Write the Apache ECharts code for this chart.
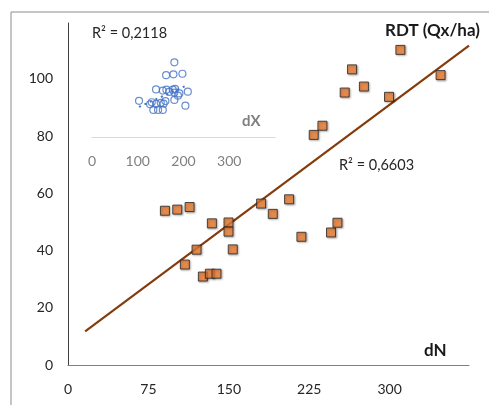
<!DOCTYPE html>
<html>
<head>
<meta charset="utf-8">
<script src="https://cdn.jsdelivr.net/npm/echarts@6/dist/echarts.min.js"></script>
<style>html,body{margin:0;padding:0;background:#fff}#c{width:489px;height:405px}</style>
</head>
<body>
<div id="c"></div>
<script>
// Main series: dN (x) vs RDT (Qx/ha) (y)
const dN  = [90.4,101.9,113.4,134.2,149.7,149.7,153.7,119.9,109.0,125.8,132.3,138.5,180.1,191.0,206.2,217.7,245.3,251.3,310.0,347.5,264.9,276.0,258.1,299.4,237.3,229.2];
const RDT = [53.9,54.3,55.2,49.5,49.8,46.6,40.4,40.3,35.1,30.9,31.9,31.9,56.4,52.8,57.9,44.8,46.3,49.7,110.1,101.3,103.3,97.3,95.2,93.7,83.6,80.4];
// Inset series: dX (x) vs RDT-like scale (y)
const dX  = [180,162,178,197.6,140,154.7,162.6,176.6,181.6,180,191,209.4,102.8,130.6,140,150.3,160.4,180,204.2,134.1,144.4,154.7,168.5,156.5,127,188];
const dXY = [106.2,101.7,102,102.2,96.7,96.3,96.6,96.6,96.9,95.6,95.3,95.9,92.7,92.2,91.6,92,92.6,93,91,89.5,89.5,89.5,95.8,91.7,91.5,94.5];
const mainXTicks = [0,75,150,225,300];
const mainYTicks = [0,20,40,60,80,100];
const insetXTicks = [0,100,200,300];
const trendRange = [16,374];
const r2Main = 'R² = 0,6603';
const r2Inset = 'R² = 0,2118';

function linreg(xs, ys){
  const n = xs.length; let sx=0,sy=0,sxx=0,sxy=0;
  for(let i=0;i<n;i++){sx+=xs[i];sy+=ys[i];sxx+=xs[i]*xs[i];sxy+=xs[i]*ys[i];}
  const b=(n*sxy-sx*sy)/(n*sxx-sx*sx); const a=(sy-b*sx)/n; return [a,b];
}
const [ma,mb] = linreg(dN,RDT);
const mainTrend = trendRange.map(x=>[x, ma+mb*x]);
const [ia,ib] = linreg(dX,dXY);
const ixmin = Math.min(...dX), ixmax = Math.max(...dX);
const insetTrend = [[ixmin, ia+ib*ixmin],[ixmax, ia+ib*ixmax]];

const FONT = 'Lato';
const chart = echarts.init(document.getElementById('c'));
chart.setOption({
  animation:false,
  backgroundColor:'#fff',
  grid:[
    {left:68, right:20, top:23, bottom:40},
    {left:92, right:214, top:23, bottom:268}
  ],
  xAxis:[
    {gridIndex:0, type:'value', min:0, max:374, interval:75,
     axisLine:{show:true, lineStyle:{color:'#7f7f7f', width:1}}, axisTick:{show:false}, splitLine:{show:false},
     axisLabel:{color:'#262626', fontFamily:FONT, fontSize:14, margin:17,
       formatter:v=>mainXTicks.includes(v)?String(v):''}},
    {gridIndex:1, type:'value', min:0, max:400, interval:100,
     axisLine:{show:true, lineStyle:{color:'#d9d9d9', width:1}}, axisTick:{show:false}, splitLine:{show:false},
     axisLabel:{color:'#808080', fontFamily:FONT, fontSize:14, margin:17,
       formatter:v=>insetXTicks.includes(v)?String(v):''}}
  ],
  yAxis:[
    {gridIndex:0, type:'value', min:0, max:119.5, interval:20,
     axisLine:{show:true, lineStyle:{color:'#404040', width:1}}, axisTick:{show:false}, splitLine:{show:false},
     axisLabel:{color:'#262626', fontFamily:FONT, fontSize:14, margin:15,
       formatter:v=>mainYTicks.includes(v)?String(v):''}},
    {gridIndex:1, type:'value', min:80, max:120, show:false, splitLine:{show:false}}
  ],
  series:[
    {type:'line', xAxisIndex:0, yAxisIndex:0, data:mainTrend, symbol:'none',
     lineStyle:{color:'#843C0C', width:2.2}, z:2},
    {type:'scatter', xAxisIndex:0, yAxisIndex:0, data:dN.map((x,i)=>[x,RDT[i]]),
     symbol:'rect', symbolSize:9,
     itemStyle:{color:'#ED7D31', borderColor:'#262626', borderWidth:1, shadowColor:'rgba(0,0,0,0.35)', shadowBlur:2, shadowOffsetX:1, shadowOffsetY:1}, z:3},
    {type:'line', xAxisIndex:1, yAxisIndex:1, data:insetTrend, symbol:'none',
     lineStyle:{color:'#4472C4', width:2, type:[2,4], cap:'butt'}, z:2},
    {type:'scatter', xAxisIndex:1, yAxisIndex:1, data:dX.map((x,i)=>[x,dXY[i]]),
     symbol:'circle', symbolSize:7,
     itemStyle:{color:'rgba(255,255,255,0)', borderColor:'#4472C4', borderWidth:1.2}, z:3}
  ],
  graphic:[
    {type:'rect', shape:{x:11, y:12, width:700, height:700}, style:{fill:'none', stroke:'#8c8c8c', lineWidth:1}, silent:true},
    {type:'text', left:385, top:22, style:{text:'RDT (Qx/ha)', fontFamily:FONT, fontWeight:'bold', fontSize:17, fill:'#1a1a1a'}},
    {type:'text', left:339, top:158, style:{text:r2Main, fontFamily:FONT, fontSize:14.5, fill:'#262626'}},
    {type:'text', left:92, top:26, style:{text:r2Inset, fontFamily:FONT, fontSize:14.5, fill:'#262626'}},
    {type:'text', left:424, top:342, style:{text:'dN', fontFamily:FONT, fontWeight:'bold', fontSize:17, fill:'#1a1a1a'}},
    {type:'text', left:242, top:114, style:{text:'dX', fontFamily:FONT, fontWeight:'bold', fontSize:15, fill:'#7f7f7f'}}
  ]
});
</script>
</body>
</html>
